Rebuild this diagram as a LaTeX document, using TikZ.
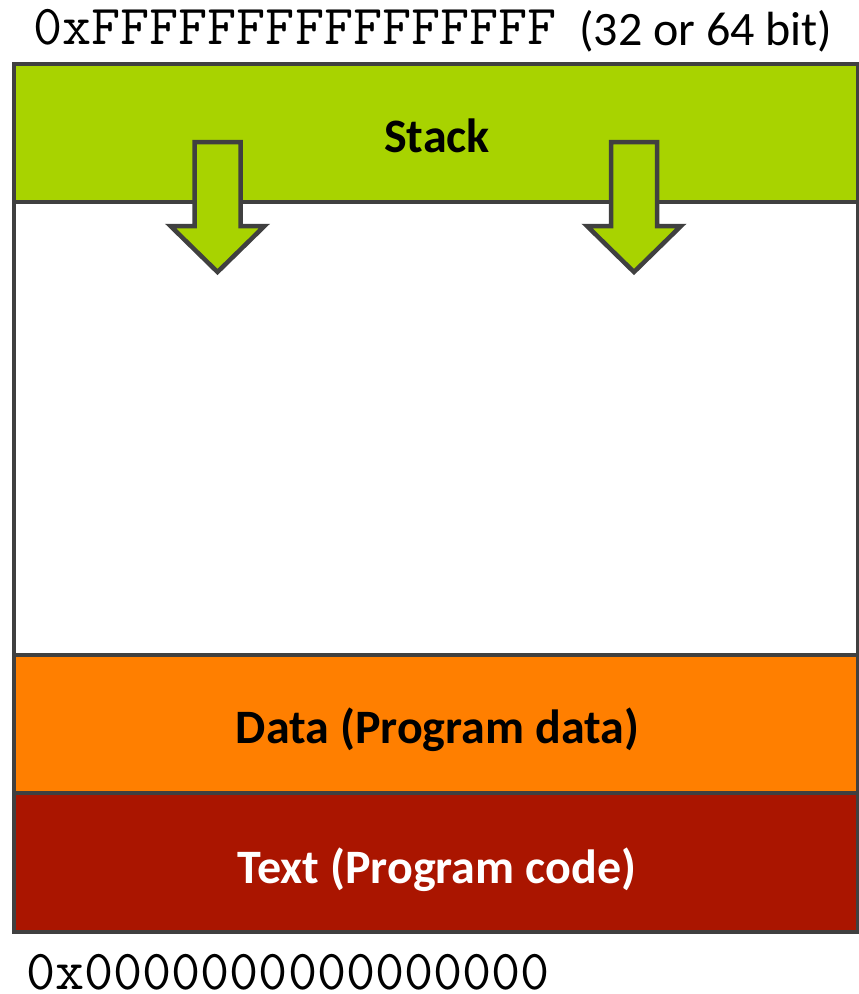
\documentclass[tikz,border=0pt]{standalone}
\usepackage{fontspec}
\setmainfont{Carlito}
\definecolor{stackgreen}{HTML}{A8D300}
\definecolor{dataorange}{HTML}{FF7F00}
\definecolor{textred}{HTML}{AA1500}
\definecolor{edgegray}{HTML}{404040}
\begin{document}
\begin{tikzpicture}[x=1pt,y=-1pt,
  edge/.style={draw=edgegray,line width=4.5pt,line join=miter},
  bandlabel/.style={anchor=base,inner sep=0pt,font=\fontsize{48}{56}\selectfont\bfseries},
  addrlabel/.style={anchor=base west,inner sep=0pt,text depth=0pt,font=\fontsize{56.5}{60}\selectfont\ttfamily},
  sizelabel/.style={anchor=base west,inner sep=0pt,font=\fontsize{48}{56}\selectfont},
  downarrow/.style={edge,fill=stackgreen}]
\useasboundingbox (0,0) rectangle (859,994);
% bands
\fill[stackgreen] (14,64) rectangle (858,202);
\fill[white] (14,202) rectangle (858,655);
\fill[dataorange] (14,655) rectangle (858,793);
\fill[textred] (14,793) rectangle (858,932);
% separators
\draw[edge] (14,202) -- (858,202);
\draw[edge] (14,655) -- (858,655);
\draw[edge] (14,793) -- (858,793);
% arrows
\foreach \cx in {217.5,634}{
  \draw[downarrow] (\cx-23,142) -- (\cx+23,142) -- (\cx+23,226) -- (\cx+47,226)
    -- (\cx,272) -- (\cx-47,226) -- (\cx-23,226) -- cycle;
}
% outer frame
\draw[edge] (14,64) rectangle (858,932);
% labels
\node[bandlabel] (stack) at (437,152) {Stack};
\node[bandlabel] (data) at (437.5,743) {Data (Program data)};
\node[bandlabel,text=white] (text) at (437,883) {Text (Program code)};
\node[addrlabel] (top) at (33,44) {0xFFFFFFFFFFFFFFFF};
\node[sizelabel] (bits) at (579,45) {(32 or 64 bit)};
\node[addrlabel] (bottom) at (26,989) {0x0000000000000000};
\end{tikzpicture}
\end{document}
